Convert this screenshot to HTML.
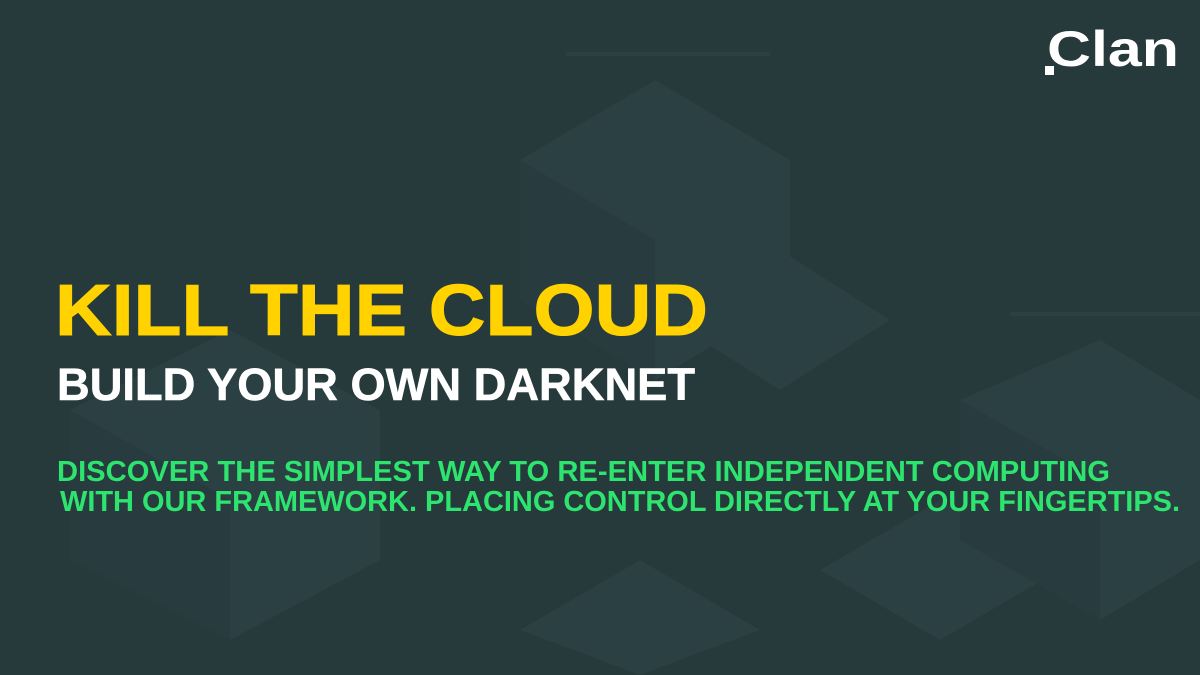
<!DOCTYPE html>
<html><head><meta charset="utf-8"><style>
html,body{margin:0;padding:0;background:#26393b;}
svg{display:block}
</style></head><body>
<svg width="1200" height="675" viewBox="0 0 1200 675" xmlns="http://www.w3.org/2000/svg">
<rect width="1200" height="675" fill="#26393b"/>
<g fill="#2b4043">
<polygon points="655,80 790,160 790,300 655,380 520,300 520,160"/>
<polygon points="780,250 890,320 780,390 670,320"/>
<polygon points="1100,340 1200,400 1200,560 1100,620 960,540 960,400"/>
<polygon points="230,330 380,410 380,560 230,640 70,560 70,410"/>
<polygon points="940,500 1060,570 940,640 820,570"/>
<polygon points="640,560 760,630 640,675 520,630"/>
</g>
<g fill="#283c3f">
<polygon points="520,160 655,240 655,380 520,300"/>
<polygon points="70,410 230,500 230,640 70,560"/>
<polygon points="960,400 1100,480 1100,620 960,540"/>
</g>
<rect x="566" y="52" width="204" height="4" fill="#2b4043"/>
<rect x="1010" y="312" width="190" height="4" fill="#2b4043"/>
<text x="1047" y="66" font-family="Liberation Sans, sans-serif" font-weight="bold" font-size="50" fill="#ffffff" textLength="132" lengthAdjust="spacingAndGlyphs">Clan</text>
<rect x="1045" y="66" width="9" height="9" fill="#ffffff"/>
<text x="55" y="335" font-family="Liberation Sans, sans-serif" font-weight="bold" font-size="72" fill="#ffd200" stroke="#ffd200" stroke-width="1" textLength="653" lengthAdjust="spacingAndGlyphs">KILL THE CLOUD</text>
<text x="57" y="400" font-family="Liberation Sans, sans-serif" font-weight="bold" font-size="45" fill="#ffffff" stroke="#ffffff" stroke-width="0.6" textLength="638" lengthAdjust="spacingAndGlyphs">BUILD YOUR OWN DARKNET</text>
<text x="57" y="481" font-family="Liberation Sans, sans-serif" font-weight="bold" font-size="29" fill="#2de46e" textLength="1053" lengthAdjust="spacingAndGlyphs">DISCOVER THE SIMPLEST WAY TO RE-ENTER INDEPENDENT COMPUTING</text>
<text x="60" y="511" font-family="Liberation Sans, sans-serif" font-weight="bold" font-size="29" fill="#2de46e" textLength="1120" lengthAdjust="spacingAndGlyphs">WITH OUR FRAMEWORK. PLACING CONTROL DIRECTLY AT YOUR FINGERTIPS.</text>
</svg>
</body></html>
